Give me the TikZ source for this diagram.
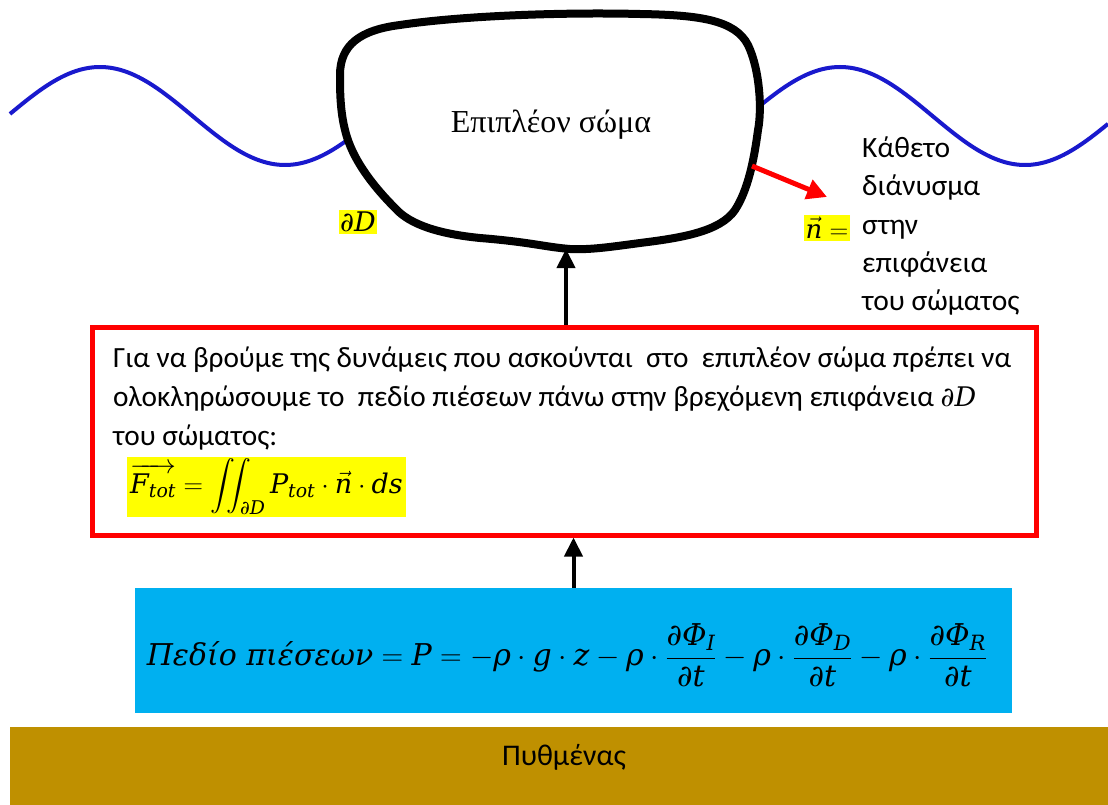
\RequirePackage{fix-cm}
\documentclass[tikz,border=0pt]{standalone}
\usepackage{amsmath}
\usepackage{fontspec}
\setmainfont{Carlito}
\newfontfamily\serifgr{Liberation Serif}
\newfontfamily\cmb{DejaVu Serif}
\usetikzlibrary{arrows.meta}
\newcommand\mi[1]{\text{\cmb\itshape #1}}
\definecolor{wavecol}{RGB}{25,25,205}
\definecolor{boxblue}{RGB}{0,176,240}
\definecolor{seabed}{RGB}{191,144,0}
\definecolor{hlyellow}{RGB}{255,255,0}
\begin{document}
\begin{tikzpicture}[x=1pt,y=-1pt,
  wave/.style={draw=wavecol,line width=4pt},
  bodyline/.style={draw=black,fill=white,line width=8pt,line join=round},
  blackarrow/.style={line width=4pt,-{Triangle[length=19pt,width=18pt]}},
  redarrow/.style={draw=red,line width=5pt,-{Triangle[length=20pt,width=20pt]},red},
  hl/.style={fill=hlyellow,inner sep=1.5pt},
  txt/.style={font=\fontsize{30}{34}\selectfont,inner sep=0pt},
  boxtxt/.style={font=\fontsize{29.3}{34}\selectfont,inner sep=0pt,anchor=base west},
  sidetxt/.style={font=\fontsize{29.5}{34}\selectfont,inner sep=0pt,anchor=base west}]
\useasboundingbox[fill=white] (0,0) rectangle (1108,805);
% water surface
\draw[wave] plot[domain=10:1108,samples=300] (\x,{116-49*cos((\x-100)/370*360)});
% floating body
\draw[bodyline] (340,75) .. controls (340,45) and (360,30) .. (400,25)
  .. controls (460,16) and (560,12) .. (640,14)
  .. controls (700,15) and (735,20) .. (748,45)
  .. controls (760,70) and (762,110) .. (758,130)
  .. controls (754,160) and (748,190) .. (735,210)
  .. controls (720,232) and (680,238) .. (640,243)
  .. controls (610,247) and (590,250) .. (570,249)
  .. controls (545,247) and (530,242) .. (480,238)
  .. controls (440,234) and (410,225) .. (395,208)
  .. controls (375,188) and (352,160) .. (345,130)
  .. controls (340,110) and (340,90) .. (340,75) -- cycle;
\node[font=\serifgr\fontsize{32}{36}\selectfont] (bodytext) at (551,125) {Επιπλέον σώμα};
\node[hl,font=\fontsize{27}{30}\selectfont] (dD) at (358,222) {$\mi{∂D}$};
% normal vector
\coordinate (nstart) at (752,166);
\coordinate (nend) at (827,197);
\draw[redarrow] (nstart) -- (nend);
\node[hl,font=\fontsize{26}{30}\selectfont,inner ysep=2.5pt] (nvec) at (827,228) {$\vec{\mi{n}} =$};
\node[sidetxt] (s1) at (862,158) {Κάθετο};
\node[sidetxt] (s2) at (862,196) {διάνυσμα};
\node[sidetxt] (s3) at (862,234) {στην};
\node[sidetxt] (s4) at (862,272) {επιφάνεια};
\node[sidetxt] (s5) at (862,310) {του σώματος};
% red box
\node[draw=red,line width=5pt,minimum width=944pt,minimum height=208pt,inner sep=0pt] (redbox) at (564,431) {};
\node[boxtxt] (l1) at (113,367) {Για να βρούμε της δυνάμεις που ασκούνται\ \ στο\ \ επιπλέον σώμα πρέπει να};
\node[boxtxt] (l2) at (113,406) {ολοκληρώσουμε το\ \ πεδίο πιέσεων πάνω στην βρεχόμενη επιφάνεια {\cmb\itshape\fontsize{27}{30}\selectfont ∂D}};
\node[boxtxt] (l3) at (113,445) {του σώματος:};
\node[hl,anchor=base west,font=\fontsize{27}{30}\selectfont,inner xsep=3pt,inner ysep=2pt] (ftot) at (127,493)
  {$\overrightarrow{\mi{F}_{\mi{tot}}} = \displaystyle\iint\nolimits_{\mi{∂D}} \mi{P}_{\mi{tot}}\cdot\vec{\mi{n}}\cdot \mi{ds}$};
% blue box
\node[fill=boxblue,minimum width=877pt,minimum height=125pt,inner sep=0pt] (bluebox) at (573.5,650.5) {};
\node[font=\fontsize{30}{36}\selectfont] (pfield) at (567,655)
  {$\mi{Πεδίο πιέσεων} = \mi{P} = -\mi{ρ}\cdot \mi{g}\cdot \mi{z}-\mi{ρ}\cdot\dfrac{\mi{∂Φ}_{\mi{I}}}{\mi{∂t}}-\mi{ρ}\cdot\dfrac{\mi{∂Φ}_{\mi{D}}}{\mi{∂t}}-\mi{ρ}\cdot\dfrac{\mi{∂Φ}_{\mi{R}}}{\mi{∂t}}$};
% seabed
\node[fill=seabed,minimum width=1098pt,minimum height=78pt,inner sep=0pt] (bed) at (559,766) {};
\node[txt] (bedtext) at (564,757) {Πυθμένας};
% connectors
\coordinate (bodybot) at (566,249);
\draw[blackarrow] (bodybot |- redbox.north) -- (bodybot);
\draw[blackarrow] (bluebox.north) -- (bluebox.north |- redbox.south);
\end{tikzpicture}
\end{document}
